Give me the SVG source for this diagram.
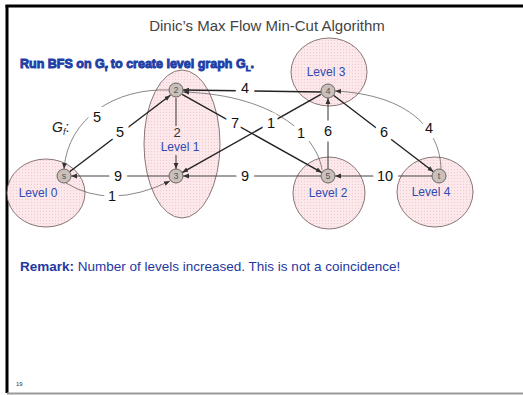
<svg xmlns="http://www.w3.org/2000/svg" width="523" height="395" viewBox="0 0 523 395">
<style>
.lvl{fill:url(#dots);stroke:#6b5555;stroke-width:0.8}
.lvt{font-family:"Liberation Sans",Arial,sans-serif;font-size:12px;fill:#2c4bb0;text-anchor:middle}
.nd{fill:#c9c0bb;stroke:#6b6464;stroke-width:1}
.ndt{font-family:"Liberation Sans",Arial,sans-serif;font-size:9px;fill:#555;text-anchor:middle}
.e{stroke:#222;stroke-width:1.4;fill:none;marker-end:url(#ah)}
.em{stroke:#444;stroke-width:1.1;fill:none;marker-end:url(#ah)}
.c{stroke:#555;stroke-width:0.7;fill:none;marker-end:url(#ah)}
.el{font-family:"Liberation Sans",Arial,sans-serif;font-size:14.5px;fill:#111;text-anchor:middle;stroke:#fff;stroke-width:11;paint-order:stroke;stroke-linejoin:round}
.el2{font-family:"Liberation Sans",Arial,sans-serif;font-size:13px;fill:#333;text-anchor:middle}
</style>
<defs>
<pattern id="dots" width="3" height="3" patternUnits="userSpaceOnUse">
<rect width="3" height="3" fill="#fce8eb"/>
<rect x="1" y="1" width="1" height="1" fill="#f3c9d0"/>
</pattern>
<marker id="ah" viewBox="0 0 10 10" refX="10" refY="5" markerWidth="6" markerHeight="6" markerUnits="userSpaceOnUse" orient="auto">
<path d="M0,1 L10,5 L0,9 z" fill="#333"/>
</marker>
</defs>
<rect width="523" height="395" fill="#fff"/>
<line x1="7" y1="5" x2="7" y2="393" stroke="#000" stroke-width="3"/>
<line x1="5.5" y1="6" x2="523" y2="6" stroke="#000" stroke-width="3"/>
<line x1="7" y1="393.5" x2="523" y2="393.5" stroke="#999" stroke-width="2"/>
<text x="267" y="31" font-family="Liberation Sans,Arial,sans-serif" font-size="15" fill="#444" text-anchor="middle">Dinic’s Max Flow Min-Cut Algorithm</text>
<text x="20" y="68" font-family="Liberation Sans,Arial,sans-serif" font-size="12.5" font-weight="bold" fill="#1e3fa6" stroke="#1e3fa6" stroke-width="0.9">Run BFS on G<tspan font-size="8" dy="3">f</tspan><tspan dy="-3"> to create level graph G</tspan><tspan font-size="8" dy="3">L</tspan><tspan dy="-3">.</tspan></text>
<text x="52" y="132" font-family="Liberation Sans,Arial,sans-serif" font-size="14" fill="#222"><tspan font-style="italic">G</tspan><tspan font-size="9" dy="3" font-style="italic">f</tspan><tspan dy="-3">:</tspan></text>
<g id="levels">
<ellipse id="level0" class="lvl" cx="46" cy="193" rx="39" ry="34"/>
<ellipse id="level1" class="lvl" cx="182" cy="144" rx="38" ry="74"/>
<ellipse id="level3" class="lvl" cx="329" cy="72" rx="38" ry="34"/>
<ellipse id="level2" class="lvl" cx="329" cy="193" rx="36" ry="36"/>
<ellipse id="level4" class="lvl" cx="435" cy="192" rx="38" ry="35"/>
<text class="lvt" x="38" y="197">Level 0</text>
<text class="lvt" x="180" y="151">Level 1</text>
<text class="lvt" x="326" y="76">Level 3</text>
<text class="lvt" x="328" y="197">Level 2</text>
<text class="lvt" x="431" y="196">Level 4</text>
</g>
<g id="connectors">
<path class="e" d="M69.6,171.8 L170.4,95.2"/>
<path class="c" d="M169,90 C115,88 68,118 64,169"/>
<path class="em" d="M169,176 L71,176"/>
<path class="c" d="M66,183 Q110,210 170,181"/>
<path class="em" d="M176,98 L176,126" style="marker-end:none"/>
<path class="em" d="M176,155 L176,169"/>
<path class="e" d="M321,92 L183,90"/>
<path class="e" d="M182.1,94.4 L321.9,172.6"/>
<path class="e" d="M320.9,94.4 L182.1,172.6"/>
<path class="c" d="M322,170 C318,140 280,95 183,92"/>
<path class="em" d="M328,169 L328,98"/>
<path class="e" d="M333.5,95.3 L433.5,171.7"/>
<path class="c" d="M441,169 C440,130 410,95 335,91"/>
<path class="em" d="M432,176 L335,176"/>
<path class="em" d="M321,176 L183,176"/>
<text class="el" x="97" y="122">5</text>
<text class="el" x="120" y="137">5</text>
<text class="el" x="118" y="181">9</text>
<text class="el" x="112" y="201">1</text>
<text class="el2" x="177" y="137">2</text>
<text class="el" x="245" y="93">4</text>
<text class="el" x="235" y="128">7</text>
<text class="el" x="271" y="128">1</text>
<text class="el" x="301" y="138">1</text>
<text class="el" x="328" y="136">6</text>
<text class="el" x="384" y="137">6</text>
<text class="el" x="429" y="133">4</text>
<text class="el" x="245" y="181">9</text>
<text class="el" x="385" y="181">10</text>
</g>
<g id="node-s"><circle class="nd" cx="64" cy="176" r="7"/><text class="ndt" x="64" y="179">s</text></g>
<g id="node-2"><circle class="nd" cx="176" cy="90" r="7"/><text class="ndt" x="176" y="93">2</text></g>
<g id="node-3"><circle class="nd" cx="176" cy="176" r="7"/><text class="ndt" x="176" y="179">3</text></g>
<g id="node-4"><circle class="nd" cx="328" cy="91" r="7"/><text class="ndt" x="328" y="94">4</text></g>
<g id="node-5"><circle class="nd" cx="328" cy="176" r="7"/><text class="ndt" x="328" y="179">5</text></g>
<g id="node-t"><circle class="nd" cx="439" cy="176" r="7"/><text class="ndt" x="439" y="179">t</text></g>
<text x="20" y="271" font-family="Liberation Sans,Arial,sans-serif" font-size="13.5" fill="#2438a0"><tspan font-weight="bold">Remark:</tspan>  Number of levels increased. This is not a coincidence!</text>
<text x="16" y="386" font-family="Liberation Sans,Arial,sans-serif" font-size="6" fill="#333">19</text>
</svg>
